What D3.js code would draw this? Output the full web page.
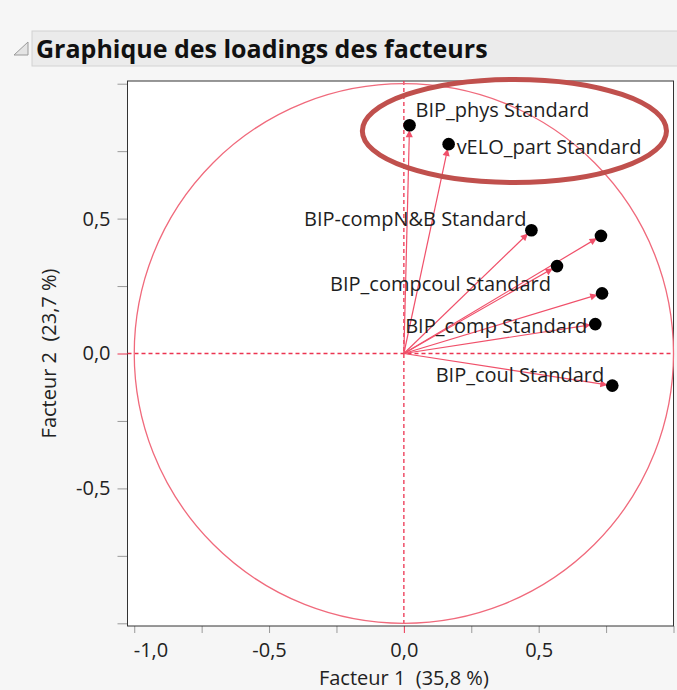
<!DOCTYPE html>
<html>
<head>
<meta charset="utf-8">
<script src="https://cdn.jsdelivr.net/npm/d3@7"></script>
<style>
  body { margin: 0; background: #f6f6f6; }
  svg { display: block; font-family: "Open Sans", "Noto Sans", sans-serif; }
  .label { font-size: 20px; fill: #1e1e1e; }
  .tick text { font-size: 20px; fill: #222; }
</style>
</head>
<body>
<script>
// loadings
var variables = ["BIP_phys Standard", "vELO_part Standard", "BIP-compN&B Standard", "", "BIP_compcoul Standard", "", "BIP_comp Standard", "BIP_coul Standard"];
var factor1 = [0.021, 0.166, 0.473, 0.731, 0.568, 0.735, 0.710, 0.773];
var factor2 = [0.846, 0.776, 0.457, 0.436, 0.324, 0.223, 0.109, -0.119];
var tickValues = [-1, -0.75, -0.5, -0.25, 0, 0.25, 0.5, 0.75, 1];
var xTickLabels = [-1, -0.5, 0, 0.5];
var yTickLabels = [-0.5, 0, 0.5];

// where each label sits relative to its point
var labelPos = [
    { anchor: "start", dx: 6, dy: -8 },
    { anchor: "start", dx: 8, dy: 10 },
    { anchor: "end", dx: -5, dy: -4 },
    null,
    { anchor: "end", dx: -6, dy: 25 },
    null,
    { anchor: "end", dx: -8, dy: 9 },
    { anchor: "end", dx: -8, dy: -4 }
];

var W = 677, H = 690;
var margin = { top: 81, right: 3.5, bottom: 64, left: 127.5 };

var svg = d3.select("body").append("svg")
    .attr("width", W)
    .attr("height", H);

// header
svg.append("rect")
    .attr("x", 32).attr("y", 31)
    .attr("width", 660).attr("height", 35)
    .attr("fill", "#ebebeb")
    .attr("stroke", "#d2d2d2");
svg.append("path")
    .attr("d", "M14,55 L28,55 L28,42 Z")
    .attr("fill", "#e4e4e4")
    .attr("stroke", "#9a9a9a");
svg.append("text")
    .attr("x", 36).attr("y", 58)
    .attr("font-size", 25)
    .attr("font-weight", "bold")
    .attr("fill", "#111")
    .text("Graphique des loadings des facteurs");

var x = d3.scaleLinear().domain([-1.025, 1.0]).range([margin.left, W - margin.right]);
var y = d3.scaleLinear().domain([-1.01, 1.01]).range([H - margin.bottom, margin.top]);

var fr = d3.formatLocale({ decimal: ",", thousands: " ", grouping: [3], currency: ["", " €"], minus: "-" });
var fmt = fr.format(".1f");

// plot area
svg.append("rect")
    .attr("x", x.range()[0]).attr("y", y.range()[1])
    .attr("width", x.range()[1] - x.range()[0])
    .attr("height", y.range()[0] - y.range()[1])
    .attr("fill", "#fff");

var red = "#f0506a";
var dashRed = "#ec3451";

// axes
var xAxis = d3.axisBottom(x).tickValues(tickValues).tickSize(7).tickPadding(10)
    .tickFormat(function (d) { return xTickLabels.indexOf(d) >= 0 ? fmt(d) : ""; });
var gx = svg.append("g")
    .attr("class", "x axis")
    .attr("transform", "translate(0," + y.range()[0] + ")")
    .call(xAxis);
// first label is pushed right so it starts at its tick
gx.selectAll(".tick text")
    .filter(function (d) { return d === -1; })
    .attr("text-anchor", "start")
    .attr("x", -1);

var yAxis = d3.axisLeft(y).tickValues(tickValues).tickSize(10).tickPadding(7)
    .tickFormat(function (d) { return yTickLabels.indexOf(d) >= 0 ? fmt(d) : ""; });
var gy = svg.append("g")
    .attr("class", "y axis")
    .attr("transform", "translate(" + x.range()[0] + ",0)")
    .call(yAxis);

[gx, gy].forEach(function (g) {
    g.select(".domain").remove();
    g.selectAll(".tick line").attr("stroke", function (d) { return d === 0 ? dashRed : "#9a9a9a"; });
    g.selectAll(".tick text").attr("font-family", "Open Sans, sans-serif");
});

// frame
svg.append("rect")
    .attr("x", x.range()[0]).attr("y", y.range()[1])
    .attr("width", x.range()[1] - x.range()[0])
    .attr("height", y.range()[0] - y.range()[1])
    .attr("fill", "none")
    .attr("stroke", "#333")
    .attr("stroke-width", 1);

// axis titles
svg.append("text")
    .attr("x", x(0)).attr("y", 685)
    .attr("text-anchor", "middle")
    .attr("font-size", 20)
    .attr("fill", "#222")
    .style("white-space", "pre")
    .text("Facteur 1  (35,8 %)");

svg.append("text")
    .attr("transform", "translate(56," + y(0) + ") rotate(-90)")
    .attr("text-anchor", "middle")
    .attr("font-size", 20)
    .attr("fill", "#222")
    .style("white-space", "pre")
    .text("Facteur 2  (23,7 %)");

// zero lines
svg.append("line")
    .attr("x1", x(0)).attr("x2", x(0))
    .attr("y1", y.range()[1]).attr("y2", y.range()[0])
    .attr("stroke", dashRed).attr("stroke-width", 1.3).attr("stroke-dasharray", "4,3");
svg.append("line")
    .attr("x1", x.range()[0]).attr("x2", x.range()[1])
    .attr("y1", y(0)).attr("y2", y(0))
    .attr("stroke", dashRed).attr("stroke-width", 1.3).attr("stroke-dasharray", "4,3");

// unit circle
svg.append("ellipse")
    .attr("cx", x(0)).attr("cy", y(0))
    .attr("rx", x(1) - x(0)).attr("ry", y(0) - y(1))
    .attr("fill", "none")
    .attr("stroke", "#f06a7c")
    .attr("stroke-width", 1.3);

// arrows, tip stops just short of the dot
svg.append("defs").append("marker")
    .attr("id", "arrow")
    .attr("viewBox", "0 0 20 10")
    .attr("refX", 16).attr("refY", 5)
    .attr("markerWidth", 16).attr("markerHeight", 8)
    .attr("markerUnits", "userSpaceOnUse")
    .attr("orient", "auto")
    .append("path")
    .attr("d", "M1,0.5 L10,5 L1,9.5 Z")
    .attr("fill", red);

var points = variables.map(function (v, i) {
    return { name: v, f1: factor1[i], f2: factor2[i], pos: labelPos[i] };
});

svg.selectAll(".arrow")
    .data(points)
    .enter()
    .append("line")
    .attr("class", "arrow")
    .attr("x1", x(0)).attr("y1", y(0))
    .attr("x2", function (d) { return x(d.f1); })
    .attr("y2", function (d) { return y(d.f2); })
    .attr("stroke", red)
    .attr("stroke-width", 1.2)
    .attr("marker-end", "url(#arrow)");

svg.selectAll(".label")
    .data(points.filter(function (d) { return d.name; }))
    .enter()
    .append("text")
    .attr("class", "label")
    .attr("x", function (d) { return x(d.f1) + d.pos.dx; })
    .attr("y", function (d) { return y(d.f2) + d.pos.dy; })
    .attr("text-anchor", function (d) { return d.pos.anchor; })
    .text(function (d) { return d.name; });

svg.selectAll(".dot")
    .data(points)
    .enter()
    .append("circle")
    .attr("class", "dot")
    .attr("cx", function (d) { return x(d.f1); })
    .attr("cy", function (d) { return y(d.f2); })
    .attr("r", 6.3)
    .attr("fill", "#000");

// hand-drawn highlight around the two top variables
var highlight = { cx: 0.41, cy: 0.825, rx: 0.564, ry: 0.191 };
svg.append("ellipse")
    .attr("cx", x(highlight.cx)).attr("cy", y(highlight.cy))
    .attr("rx", x(highlight.rx) - x(0)).attr("ry", y(0) - y(highlight.ry))
    .attr("fill", "none")
    .attr("stroke", "#c0504d")
    .attr("stroke-width", 5);
</script>
</body>
</html>
